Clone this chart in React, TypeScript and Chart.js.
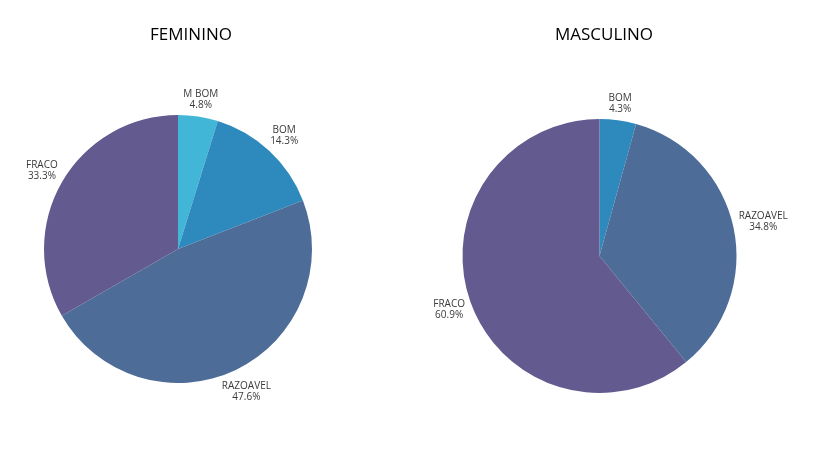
import { useEffect, useRef } from "react"
import { Chart, registerables } from "chart.js"

Chart.register(...registerables)

// data
const femLabels = ["M BOM", "BOM", "RAZOAVEL", "FRACO"]
const femValues = [4.8, 14.3, 47.6, 33.3]
const femColors = ["#41b6d6", "#2e8abd", "#4e6c98", "#635a8f"]

const mascLabels = ["BOM", "RAZOAVEL", "FRACO"]
const mascValues = [4.3, 34.8, 60.9]
const mascColors = ["#2e8abd", "#4e6c98", "#635a8f"]

const labelFont = '10px "Open Sans", sans-serif'

const outsideLabels = {
  id: "outsideLabels",
  afterDatasetsDraw(chart: Chart) {
    const ctx = chart.ctx
    const meta = chart.getDatasetMeta(0)
    const labels = chart.data.labels as string[]
    const values = chart.data.datasets[0].data as number[]
    ctx.save()
    ctx.font = labelFont
    ctx.fillStyle = "#3a3a3a"
    ctx.textAlign = "center"
    ctx.textBaseline = "middle"
    meta.data.forEach((el: any, i: number) => {
      const { x, y, startAngle, endAngle, outerRadius } = el.getProps(
        ["x", "y", "startAngle", "endAngle", "outerRadius"],
        true,
      )
      const mid = (startAngle + endAngle) / 2
      const l1 = labels[i]
      const l2 = values[i].toFixed(1) + "%"
      const halfW = Math.max(ctx.measureText(l1).width, ctx.measureText(l2).width) / 2
      const halfH = 11
      const c = Math.cos(mid)
      const s = Math.sin(mid)
      const d = outerRadius + 4 + halfW * Math.abs(c) + halfH * Math.abs(s)
      const cx = x + d * c
      const cy = y + d * s
      ctx.fillText(l1, cx, cy - 5.5)
      ctx.fillText(l2, cx, cy + 5.5)
    })
    ctx.restore()
  },
}

type PieProps = {
  labels: string[]
  values: number[]
  colors: string[]
  radius: number
  padding: { left: number; right: number; top: number; bottom: number }
}

function Pie({ labels, values, colors, radius, padding }: PieProps) {
  const canvasRef = useRef<HTMLCanvasElement>(null)

  useEffect(() => {
    if (!canvasRef.current) return
    const chart = new Chart(canvasRef.current, {
      type: "pie",
      data: {
        labels,
        datasets: [
          {
            data: values,
            backgroundColor: colors,
            borderWidth: 0,
          },
        ],
      },
      options: {
        animation: false,
        responsive: true,
        maintainAspectRatio: false,
        radius,
        layout: { padding },
        plugins: {
          legend: { display: false },
          tooltip: { enabled: false },
        },
      },
      plugins: [outsideLabels],
    })
    return () => chart.destroy()
  }, [])

  return <canvas ref={canvasRef} />
}

export default function App() {
  useEffect(() => {
    document.body.style.margin = "0"
  }, [])

  const titleStyle: React.CSSProperties = {
    position: "absolute",
    top: 22,
    fontFamily: '"Open Sans", sans-serif',
    fontSize: 17,
    color: "#000",
    transform: "translateX(-50%)",
    whiteSpace: "nowrap",
  }

  return (
    <div style={{ position: "relative", width: 819, height: 453, background: "#fff" }}>
      <div style={{ position: "absolute", left: 0, top: 0, width: 400, height: 453 }}>
        <Pie
          labels={femLabels}
          values={femValues}
          colors={femColors}
          radius={134}
          padding={{ left: 20, right: 64, top: 60, bottom: 15 }}
        />
      </div>
      <div style={{ position: "absolute", left: 410, top: 0, width: 409, height: 453 }}>
        <Pie
          labels={mascLabels}
          values={mascValues}
          colors={mascColors}
          radius={137}
          padding={{ left: 20, right: 50, top: 70, bottom: 11 }}
        />
      </div>
      <div style={{ ...titleStyle, left: 191 }}>FEMININO</div>
      <div style={{ ...titleStyle, left: 604 }}>MASCULINO</div>
    </div>
  )
}
